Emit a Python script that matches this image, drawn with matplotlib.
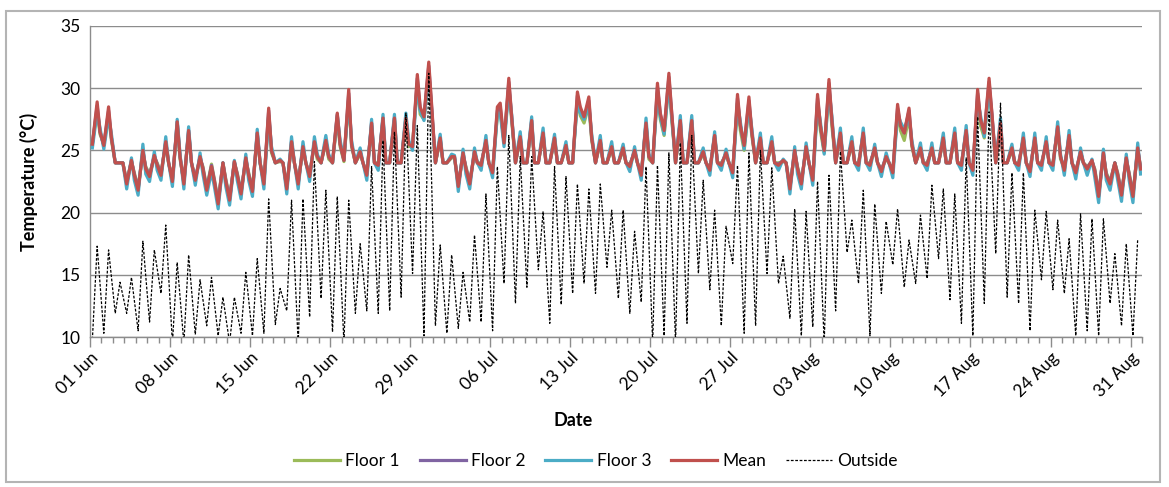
import numpy as np
import matplotlib
matplotlib.use("Agg")
import matplotlib.pyplot as plt
import matplotlib.dates as mdates
from matplotlib.patches import Rectangle

plt.rcParams["font.family"] = ["Lato", "DejaVu Sans"]

# ---------------------------------------------------------------------------
# Summer monitoring period: 01 Jun - 31 Aug, one row per day
# Indoor readings per day: [05:00 low, 15:00 high, 21:00 evening]
# Outdoor readings per day: [05:00 low, 15:00 high]
# ---------------------------------------------------------------------------
START = np.datetime64("2013-06-01T00:00")
N_DAYS = 92
INDOOR_HOURS = [5, 15, 21]
OUTDOOR_HOURS = [5, 15]

mean_temp = [
    [25.5, 28.9, 26.5], [25.4, 28.5, 26.0], [24.0, 24.0, 24.0], [22.3, 24.2, 23.0],
    [21.8, 25.0, 23.5], [22.9, 24.6, 23.8], [23.0, 25.7, 24.0], [22.5, 27.3, 24.5],
    [22.3, 26.6, 24.0], [22.6, 24.5, 23.5], [21.8, 23.7, 22.5], [20.7, 24.0, 22.5],
    [21.0, 24.1, 23.0], [21.5, 24.4, 23.0], [21.7, 26.4, 24.0], [22.3, 28.4, 25.0],
    [24.0, 24.2, 24.0], [21.9, 25.7, 24.0], [22.3, 25.3, 24.0], [22.9, 25.7, 24.5],
    [24.0, 25.8, 24.5], [24.0, 28.0, 25.5], [24.2, 29.9, 25.5], [24.0, 24.9, 24.0],
    [23.0, 27.2, 24.0], [23.8, 27.6, 24.0], [24.0, 27.6, 24.0], [24.0, 27.6, 25.5],
    [25.3, 31.1, 28.5], [27.7, 32.1, 28.7], [24.0, 26.0, 24.0], [24.0, 24.5, 24.5],
    [22.1, 24.8, 23.5], [22.3, 24.9, 24.0], [23.8, 25.8, 24.0], [23.2, 28.5, 28.8],
    [25.6, 30.8, 27.7], [24.0, 26.1, 24.0], [24.0, 27.4, 24.0], [24.0, 26.4, 24.0],
    [24.0, 26.0, 24.0], [24.0, 25.4, 24.0], [24.0, 29.7, 28.5], [27.7, 29.3, 26.0],
    [24.0, 25.8, 24.0], [24.0, 25.3, 24.0], [24.0, 25.2, 24.0], [23.7, 25.0, 24.0],
    [23.0, 27.2, 24.5], [24.0, 30.4, 28.0], [26.6, 31.2, 28.0], [24.0, 27.4, 24.0],
    [24.0, 27.4, 24.0], [24.0, 24.9, 24.0], [23.4, 26.2, 24.0], [23.8, 24.8, 24.0],
    [23.2, 29.5, 27.0], [25.4, 29.3, 26.5], [24.0, 26.0, 24.0], [24.0, 25.7, 24.0],
    [23.8, 24.2, 24.0], [21.9, 25.0, 23.5], [22.3, 25.3, 24.0], [22.6, 29.5, 27.0],
    [25.0, 30.7, 27.5], [24.0, 26.4, 24.0], [24.0, 25.7, 24.0], [23.8, 26.4, 24.0],
    [23.8, 25.2, 24.0], [23.3, 24.5, 24.0], [23.2, 28.7, 27.0], [26.4, 28.4, 25.5],
    [24.0, 25.2, 24.0], [23.8, 25.2, 24.0], [24.0, 26.0, 24.0], [24.0, 26.4, 24.0],
    [23.8, 26.6, 24.0], [23.4, 29.9, 27.5], [26.4, 30.8, 28.0], [24.0, 27.2, 24.0],
    [24.0, 25.2, 24.0], [23.8, 26.0, 24.0], [23.3, 26.0, 24.0], [23.8, 25.7, 24.0],
    [23.8, 26.9, 24.5], [23.4, 26.2, 24.0], [23.2, 24.9, 24.0], [23.5, 24.2, 23.3],
    [21.3, 24.8, 23.0], [22.3, 24.0, 23.0], [21.4, 24.4, 23.0], [21.3, 25.2, 23.5],
]

floor3_temp = [
    [25.2, 28.1, 26.8], [25.1, 27.7, 26.3], [24.0, 24.0, 24.0], [21.9, 24.4, 22.6],
    [21.4, 25.5, 23.1], [22.5, 24.9, 23.4], [22.6, 26.1, 24.0], [22.1, 27.5, 24.7],
    [21.9, 26.9, 24.0], [22.2, 24.8, 23.1], [21.4, 23.3, 22.1], [20.3, 24.0, 22.1],
    [20.6, 24.2, 22.6], [21.1, 24.7, 22.6], [21.3, 26.7, 24.0], [21.9, 27.8, 25.3],
    [24.0, 24.3, 24.0], [21.5, 26.1, 24.0], [21.9, 25.7, 24.0], [22.5, 26.1, 24.7],
    [24.0, 26.2, 24.7], [24.0, 27.8, 25.8], [24.3, 29.1, 25.8], [24.0, 25.2, 24.0],
    [22.6, 27.5, 24.0], [23.4, 27.9, 24.0], [24.0, 27.9, 24.0], [24.0, 28.0, 25.8],
    [25.0, 30.3, 28.2], [27.4, 31.3, 28.3], [24.0, 26.3, 24.0], [24.0, 24.7, 24.6],
    [21.7, 25.1, 23.1], [21.9, 25.2, 24.0], [23.4, 26.2, 24.0], [22.8, 28.0, 28.0],
    [25.3, 30.0, 27.9], [24.0, 26.5, 24.0], [24.0, 27.7, 24.0], [24.0, 26.8, 24.0],
    [24.0, 26.3, 24.0], [24.0, 25.7, 24.0], [24.0, 29.0, 28.0], [27.5, 28.6, 26.3],
    [24.0, 26.2, 24.0], [24.0, 25.7, 24.0], [24.0, 25.5, 24.0], [23.3, 25.3, 24.0],
    [22.6, 27.6, 24.7], [24.0, 29.6, 27.7], [26.3, 30.4, 27.7], [24.0, 27.8, 24.0],
    [24.0, 27.8, 24.0], [24.0, 25.2, 24.0], [23.0, 26.5, 24.0], [23.4, 25.1, 24.0],
    [22.8, 28.8, 27.3], [25.1, 28.6, 26.8], [24.0, 26.4, 24.0], [24.0, 26.1, 24.0],
    [23.4, 24.3, 24.0], [21.5, 25.3, 23.1], [21.9, 25.6, 24.0], [22.2, 28.8, 27.3],
    [24.7, 29.9, 27.8], [24.0, 26.8, 24.0], [24.0, 26.1, 24.0], [23.4, 26.8, 24.0],
    [23.4, 25.5, 24.0], [22.9, 24.8, 24.0], [22.8, 28.0, 27.3], [26.7, 27.8, 25.8],
    [24.0, 25.6, 24.0], [23.4, 25.6, 24.0], [24.0, 26.4, 24.0], [24.0, 26.8, 24.0],
    [23.4, 27.0, 24.0], [23.0, 29.1, 27.8], [26.1, 30.0, 27.7], [24.0, 27.6, 24.0],
    [24.0, 25.5, 24.0], [23.4, 26.4, 24.0], [22.9, 26.4, 24.0], [23.4, 26.1, 24.0],
    [23.4, 27.3, 24.7], [23.0, 26.6, 24.0], [22.7, 25.2, 24.0], [23.0, 24.3, 22.8],
    [20.8, 25.1, 22.6], [21.8, 24.0, 22.6], [20.9, 24.7, 22.6], [20.8, 25.6, 23.1],
]

floor1_temp = [
    [25.6, 28.2, 26.3], [25.5, 27.8, 25.8], [24.0, 24.0, 24.0], [22.5, 24.1, 23.2],
    [22.0, 24.8, 23.7], [23.1, 24.4, 24.0], [23.2, 25.5, 24.0], [22.7, 27.0, 24.3],
    [22.5, 26.4, 24.0], [22.8, 24.3, 23.7], [22.0, 23.9, 22.7], [20.9, 24.0, 22.7],
    [21.2, 24.0, 23.2], [21.7, 24.2, 23.2], [21.9, 26.2, 24.0], [22.5, 27.8, 24.8],
    [24.0, 24.1, 24.0], [22.1, 25.5, 24.0], [22.5, 25.1, 24.0], [23.1, 25.5, 24.3],
    [24.0, 25.6, 24.3], [24.0, 27.5, 25.3], [24.1, 29.2, 25.3], [24.0, 24.7, 24.0],
    [23.2, 27.0, 24.0], [24.0, 27.4, 24.0], [24.0, 27.4, 24.0], [24.0, 27.3, 25.3],
    [25.5, 30.4, 27.9], [27.5, 31.4, 28.1], [24.0, 25.8, 24.0], [24.0, 24.4, 24.4],
    [22.3, 24.6, 23.7], [22.5, 24.7, 24.0], [24.0, 25.6, 24.0], [23.4, 27.8, 28.1],
    [25.8, 30.1, 27.4], [24.0, 25.9, 24.0], [24.0, 27.1, 24.0], [24.0, 26.2, 24.0],
    [24.0, 25.8, 24.0], [24.0, 25.2, 24.0], [24.0, 29.0, 27.8], [27.2, 28.6, 25.8],
    [24.0, 25.6, 24.0], [24.0, 25.1, 24.0], [24.0, 25.0, 24.0], [23.9, 24.8, 24.0],
    [23.2, 27.0, 24.3], [24.0, 29.7, 27.5], [26.2, 30.5, 27.5], [24.0, 27.1, 24.0],
    [24.0, 27.1, 24.0], [24.0, 24.7, 24.0], [23.6, 26.0, 24.0], [24.0, 24.6, 24.0],
    [23.4, 28.8, 26.6], [25.0, 28.6, 26.2], [24.0, 25.8, 24.0], [24.0, 25.5, 24.0],
    [24.0, 24.1, 24.0], [22.1, 24.8, 23.7], [22.5, 25.1, 24.0], [22.8, 28.8, 26.6],
    [24.8, 30.0, 27.0], [24.0, 26.2, 24.0], [24.0, 25.5, 24.0], [24.0, 26.2, 24.0],
    [24.0, 25.0, 24.0], [23.5, 24.3, 24.0], [23.4, 28.0, 26.6], [25.8, 27.7, 25.3],
    [24.0, 25.0, 24.0], [24.0, 25.0, 24.0], [24.0, 25.8, 24.0], [24.0, 26.2, 24.0],
    [24.0, 26.4, 24.0], [23.6, 29.2, 27.0], [26.0, 30.1, 27.5], [24.0, 27.0, 24.0],
    [24.0, 25.0, 24.0], [24.0, 25.8, 24.0], [23.5, 25.8, 24.0], [24.0, 25.5, 24.0],
    [24.0, 26.7, 24.3], [23.6, 26.0, 24.0], [23.4, 24.7, 24.0], [23.7, 24.1, 23.5],
    [21.5, 24.6, 23.2], [22.5, 24.0, 23.2], [21.6, 24.2, 23.2], [21.5, 25.0, 23.7],
]

floor2_temp = [
    [25.5, 28.6, 26.5], [25.4, 28.2, 26.0], [24.0, 24.0, 24.0], [22.4, 24.2, 23.1],
    [21.9, 25.0, 23.6], [23.0, 24.6, 23.9], [23.1, 25.7, 24.0], [22.6, 27.3, 24.5],
    [22.4, 26.6, 24.0], [22.7, 24.5, 23.6], [21.9, 23.8, 22.6], [20.8, 24.0, 22.6],
    [21.1, 24.1, 23.1], [21.6, 24.4, 23.1], [21.8, 26.4, 24.0], [22.4, 28.2, 25.0],
    [24.0, 24.2, 24.0], [22.0, 25.7, 24.0], [22.4, 25.3, 24.0], [23.0, 25.7, 24.5],
    [24.0, 25.8, 24.5], [24.0, 27.9, 25.5], [24.2, 29.6, 25.5], [24.0, 24.9, 24.0],
    [23.1, 27.2, 24.0], [23.9, 27.6, 24.0], [24.0, 27.6, 24.0], [24.0, 27.6, 25.5],
    [25.3, 30.8, 28.3], [27.7, 31.8, 28.5], [24.0, 26.0, 24.0], [24.0, 24.5, 24.5],
    [22.2, 24.8, 23.6], [22.4, 24.9, 24.0], [23.9, 25.8, 24.0], [23.3, 28.2, 28.5],
    [25.6, 30.5, 27.7], [24.0, 26.1, 24.0], [24.0, 27.4, 24.0], [24.0, 26.4, 24.0],
    [24.0, 26.0, 24.0], [24.0, 25.4, 24.0], [24.0, 29.4, 28.3], [27.6, 29.0, 26.0],
    [24.0, 25.8, 24.0], [24.0, 25.3, 24.0], [24.0, 25.2, 24.0], [23.8, 25.0, 24.0],
    [23.1, 27.2, 24.5], [24.0, 30.1, 27.9], [26.6, 30.9, 27.9], [24.0, 27.4, 24.0],
    [24.0, 27.4, 24.0], [24.0, 24.9, 24.0], [23.5, 26.2, 24.0], [23.9, 24.8, 24.0],
    [23.3, 29.2, 27.0], [25.4, 29.0, 26.5], [24.0, 26.0, 24.0], [24.0, 25.7, 24.0],
    [23.9, 24.2, 24.0], [22.0, 25.0, 23.6], [22.4, 25.3, 24.0], [22.7, 29.2, 27.0],
    [25.0, 30.4, 27.5], [24.0, 26.4, 24.0], [24.0, 25.7, 24.0], [23.9, 26.4, 24.0],
    [23.9, 25.2, 24.0], [23.4, 24.5, 24.0], [23.3, 28.4, 27.0], [26.4, 28.2, 25.5],
    [24.0, 25.2, 24.0], [23.9, 25.2, 24.0], [24.0, 26.0, 24.0], [24.0, 26.4, 24.0],
    [23.9, 26.6, 24.0], [23.5, 29.6, 27.5], [26.4, 30.5, 27.9], [24.0, 27.2, 24.0],
    [24.0, 25.2, 24.0], [23.9, 26.0, 24.0], [23.4, 26.0, 24.0], [23.9, 25.7, 24.0],
    [23.9, 26.9, 24.5], [23.5, 26.2, 24.0], [23.3, 24.9, 24.0], [23.6, 24.2, 23.4],
    [21.4, 24.8, 23.1], [22.4, 24.0, 23.1], [21.5, 24.4, 23.1], [21.4, 25.2, 23.6],
]

outside_temp = [
    [9.8, 17.3], [10.3, 17.0], [11.9, 14.4], [11.9, 14.8], [10.5, 17.7], [11.2, 17.0],
    [13.5, 19.0], [9.5, 16.0], [9.5, 16.6], [10.2, 14.6], [10.9, 14.8], [10.1, 13.2],
    [9.5, 13.2], [10.3, 15.2], [10.1, 16.3], [10.3, 21.1], [11.0, 13.9], [12.1, 21.0],
    [9.5, 21.1], [11.6, 24.1], [13.1, 21.8], [10.4, 21.3], [9.5, 21.0], [11.9, 17.5],
    [12.1, 23.7], [11.9, 25.8], [12.1, 26.5], [13.2, 28.0], [15.1, 27.0], [10.1, 31.2],
    [10.9, 17.4], [10.3, 16.6], [10.7, 15.2], [11.2, 18.2], [11.2, 21.5], [10.5, 23.7],
    [14.3, 26.2], [12.7, 24.5], [14.0, 24.5], [15.4, 20.1], [11.1, 23.7], [12.6, 22.9],
    [13.5, 22.3], [14.3, 21.9], [13.5, 22.3], [15.6, 20.2], [13.1, 20.2], [11.9, 18.5],
    [12.8, 23.7], [9.5, 23.8], [10.1, 24.8], [9.5, 25.6], [11.1, 26.2], [15.1, 22.6],
    [13.8, 20.2], [10.9, 18.9], [15.9, 23.8], [10.3, 24.8], [10.9, 25.0], [15.1, 23.6],
    [14.3, 16.5], [11.5, 20.3], [10.1, 20.1], [10.8, 22.5], [9.5, 23.0], [12.1, 24.9],
    [16.8, 19.4], [14.3, 21.8], [10.1, 20.7], [13.5, 19.3], [15.8, 20.3], [14.0, 17.8],
    [14.3, 19.8], [14.7, 22.2], [16.3, 21.9], [13.0, 21.5], [11.1, 24.4], [10.1, 27.7],
    [12.7, 28.1], [16.7, 28.8], [13.2, 23.2], [12.7, 23.2], [10.5, 20.2], [14.6, 20.1],
    [13.8, 19.4], [13.5, 17.9], [10.1, 19.9], [10.5, 19.5], [10.1, 19.5], [12.7, 16.7],
    [10.9, 17.5], [10.1, 17.9],
]

COLORS = {
    "Floor 1": "#9BBB59",
    "Floor 2": "#8064A2",
    "Floor 3": "#4BACC6",
    "Mean": "#C0504D",
    "Outside": "#000000",
}


def timestamps(n_days, hours):
    day_hours = np.arange(n_days)[:, None] * 24 + np.asarray(hours)[None, :]
    return (START + day_hours.astype("timedelta64[h]")).ravel()


t_in = timestamps(N_DAYS, INDOOR_HOURS)
t_out = timestamps(N_DAYS, OUTDOOR_HOURS)

W, H = 1169, 487
fig = plt.figure(figsize=(W / 100, H / 100), dpi=100)
ax = fig.add_axes([90 / W, 1 - 337 / H, 1052 / W, 311 / H])

indoor = [("Floor 1", floor1_temp), ("Floor 2", floor2_temp),
          ("Floor 3", floor3_temp), ("Mean", mean_temp)]
for name, vals in indoor:
    ax.plot(t_in, np.ravel(vals), color=COLORS[name], lw=2.3,
            solid_joinstyle="round", label=name, zorder=3)
ax.plot(t_out, np.ravel(outside_temp), color=COLORS["Outside"], lw=0.9,
        ls=(0, (2.2, 1.3)), label="Outside", zorder=4)

# value axis
ax.set_ylim(10, 35)
ax.set_yticks(np.arange(10, 36, 5))
ax.yaxis.grid(True, color="#8C8C8C", lw=1.0)
ax.set_axisbelow(True)

# date axis: weekly labels, daily minor ticks
end = START + np.timedelta64(N_DAYS, "D")
ax.set_xlim(START, end)
ax.set_xticks(START + np.arange(0, N_DAYS, 7).astype("timedelta64[D]"))
ax.set_xticks(START + np.arange(0, N_DAYS + 1).astype("timedelta64[D]"), minor=True)
ax.xaxis.set_major_formatter(mdates.DateFormatter("%d %b"))
for lab in ax.get_xticklabels():
    lab.set_rotation(45)
    lab.set_ha("right")
    lab.set_va("top")
    lab.set_rotation_mode("anchor")

ax.tick_params(axis="x", which="major", length=7, width=1, color="#8C8C8C",
               labelsize=12.5, pad=2)
ax.tick_params(axis="x", which="minor", length=4, width=1, color="#8C8C8C")
ax.tick_params(axis="y", length=0, labelsize=12.5, pad=7)

for side in ("top", "right"):
    ax.spines[side].set_visible(False)
for side in ("left", "bottom"):
    ax.spines[side].set_color("#8C8C8C")
    ax.spines[side].set_linewidth(1.0)

ax.set_ylabel("Temperature (°C)", fontsize=13, fontweight="bold")
ax.yaxis.set_label_coords(-0.049, 0.5)
ax.set_xlabel("Date", fontsize=13, fontweight="bold")
ax.xaxis.set_label_coords(0.459, -0.241)

fig.legend(loc="center", bbox_to_anchor=(596 / W, 1 - 461 / H), ncol=5,
           frameon=False, fontsize=12.5, handlelength=2.65, handletextpad=0.3,
           columnspacing=1.15)

# chart-area border
fig.patches.append(Rectangle((6 / W, 5 / H), 1154 / W, 471 / H,
                             transform=fig.transFigure, fill=False,
                             edgecolor="#B4B4B4", lw=1.5))

fig.savefig("out.png", dpi=100)
